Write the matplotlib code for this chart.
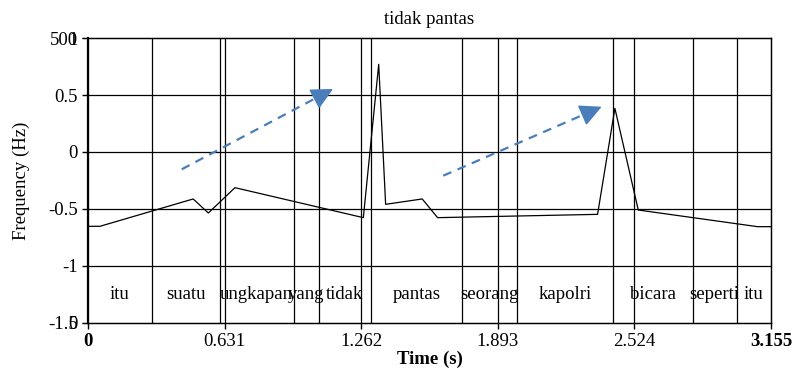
import matplotlib
matplotlib.use('Agg')
import matplotlib.pyplot as plt

plt.rcParams.update({
    'font.family': 'Liberation Serif',
    'font.size': 13.5,
})

# pitch contour (normalised)
times = [0.0, 0.055, 0.486, 0.556, 0.679, 1.272, 1.343, 1.375, 1.544, 1.615,
         2.354, 2.434, 2.542, 3.093, 3.155]
pitch = [-0.652, -0.652, -0.412, -0.535, -0.313, -0.576, 0.769, -0.459, -0.412,
         -0.576, -0.547, 0.383, -0.509, -0.655, -0.655]

# word segmentation
bounds = [0.0, 0.294, 0.608, 0.950, 1.067, 1.307, 1.729, 1.983, 2.424, 2.793,
          2.996, 3.155]
words = ['itu', 'suatu', 'ungkapan', 'yang', 'tidak', 'pantas', 'seorang',
         'kapolri', 'bicara', 'seperti', 'itu']

xticks = [0, 0.631, 1.262, 1.893, 2.524, 3.155]
xticklabels = ['0', '0.631', '1.262', '1.893', '2.524', '3.155']
yticks = [-1.5, -1, -0.5, 0, 0.5, 1]
yticklabels = ['-1.5', '-1', '-0.5', '0', '0.5', '1']
hz_ticks = [0, 500]

# rising-trend arrows (start, end)
arrows = [((0.433, -0.152), (1.132, 0.553)),
          ((1.641, -0.208), (2.373, 0.397))]

BLUE = '#4a7ebb'

fig = plt.figure(figsize=(7.94, 3.69), dpi=100)
ax = fig.add_axes([0.1108, 0.1247, 0.8602, 0.7723])

ax.set_xlim(0, 3.155)
ax.set_ylim(-1.5, 1)

for y in yticks[1:-1]:
    ax.axhline(y, color='black', lw=0.9, zorder=1)
for x in xticks[1:-1]:
    ax.axvline(x, color='black', lw=0.9, zorder=1)
for b in bounds[1:-1]:
    ax.axvline(b, color='black', lw=0.9, zorder=1)

for i, w in enumerate(words):
    ax.text((bounds[i] + bounds[i + 1]) / 2, -1.25, w, ha='center', va='center')

ax.plot(times, pitch, color='black', lw=0.9, zorder=3)

# dashed shaft + solid triangular head
for (x0, y0), (x1, y1) in arrows:
    xb = x0 + 0.9 * (x1 - x0)
    yb = y0 + 0.9 * (y1 - y0)
    ax.plot([x0, xb], [y0, yb], color=BLUE, lw=1.6, ls=(0, (4, 3)), zorder=4)
    ax.annotate('', xy=(x1, y1), xytext=(xb, yb),
                arrowprops=dict(arrowstyle='-|>,head_length=1.0,head_width=0.5',
                                color=BLUE, lw=1.2, shrinkA=0, shrinkB=0),
                zorder=4)

ax.set_xticks(xticks)
ax.set_xticklabels(xticklabels)
for lbl in (ax.get_xticklabels()[0], ax.get_xticklabels()[-1]):
    lbl.set_fontweight('bold')
ax.set_yticks(yticks)
ax.set_yticklabels(yticklabels)
ax.tick_params(direction='out', length=4, width=1, colors='black', labelsize=13.5)
for s in ax.spines.values():
    s.set_linewidth(1.0)
ax.spines['left'].set_linewidth(1.6)

# Hz scale sharing the left side
axh = ax.twinx()
axh.set_ylim(0, 500)
axh.yaxis.tick_left()
axh.set_yticks(hz_ticks)
axh.set_yticklabels([str(v) for v in hz_ticks])
axh.tick_params(direction='out', length=4, labelsize=13.5)

ax.set_title('tidak pantas', fontsize=13.5, pad=10)
ax.set_ylabel('Frequency (Hz)', fontsize=13.5, labelpad=13)
ax.set_xlabel('Time (s)', fontsize=13.5, fontweight='bold', labelpad=0)

fig.savefig('out.png', dpi=100)
